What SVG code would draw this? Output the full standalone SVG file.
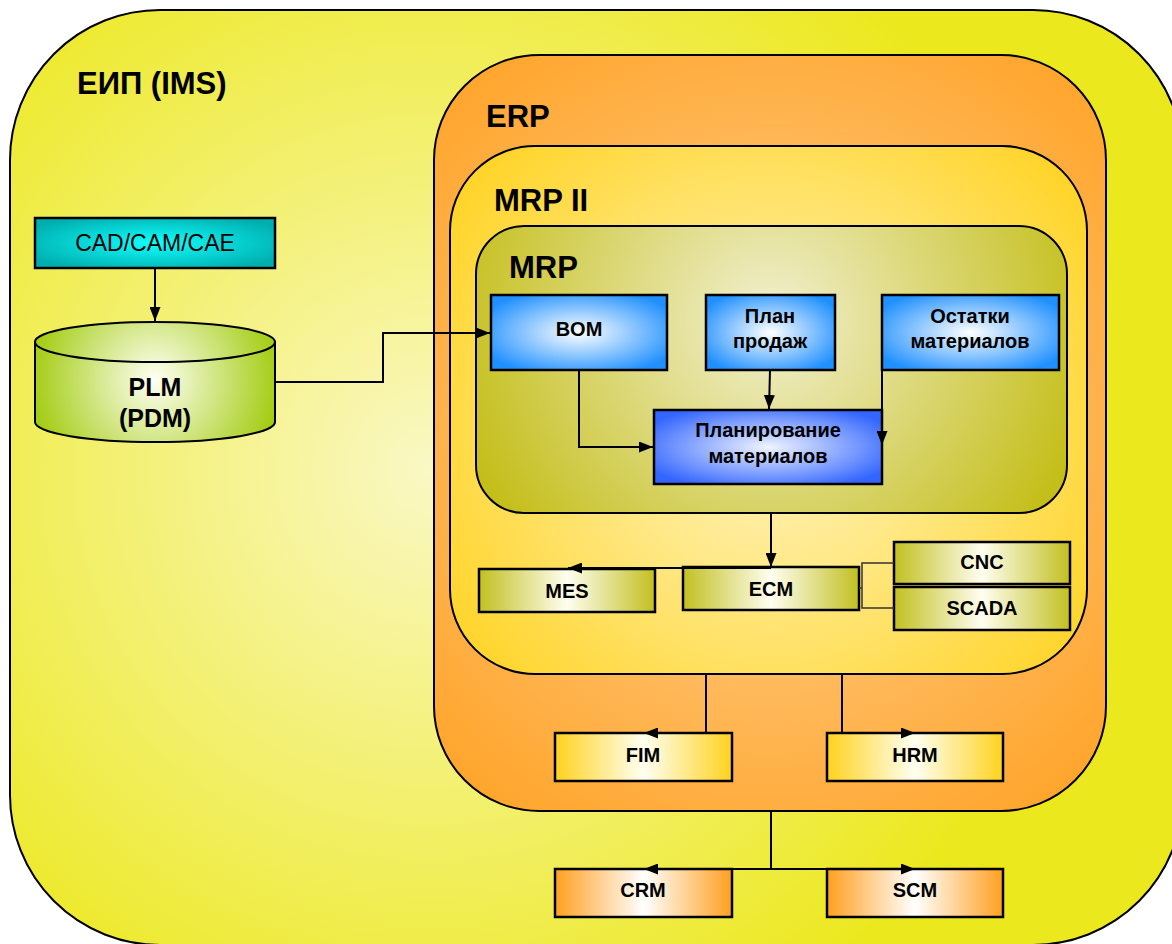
<svg xmlns="http://www.w3.org/2000/svg" width="1172" height="944" viewBox="0 0 1172 944">
<style>
.c{stroke:#000;stroke-width:2}
.b{stroke:#000;stroke-width:2.5}
.h{font-family:"Liberation Sans",Arial,sans-serif;font-weight:bold;font-size:31px;fill:#000}
.t{font-family:"Liberation Sans",Arial,sans-serif;font-weight:bold;font-size:20px;fill:#000;text-anchor:middle}
.l{fill:none;stroke:#000;stroke-width:2}
.a{marker-end:url(#arr)}
</style>
<defs>
<marker id="arr" markerUnits="userSpaceOnUse" markerWidth="14" markerHeight="11" refX="14" refY="5.5" orient="auto"><path d="M0,0 L14,5.5 L0,11 Z" fill="#000"/></marker>
<radialGradient id="gIms" gradientUnits="userSpaceOnUse" cx="430" cy="470" r="640"><stop offset="0" stop-color="#FAF8C4"/><stop offset="1" stop-color="#ECE81E"/></radialGradient>
<radialGradient id="gErp" gradientUnits="userSpaceOnUse" cx="770" cy="430" r="520"><stop offset="0" stop-color="#FFD296"/><stop offset="1" stop-color="#FFA020"/></radialGradient>
<radialGradient id="gMrp2" gradientUnits="userSpaceOnUse" cx="770" cy="420" r="410"><stop offset="0" stop-color="#FFF6C8"/><stop offset="1" stop-color="#FFD21E"/></radialGradient>
<radialGradient id="gMrp" gradientUnits="userSpaceOnUse" cx="770" cy="320" r="330"><stop offset="0" stop-color="#F2F0D2"/><stop offset="1" stop-color="#C4BE18"/></radialGradient>
<radialGradient id="gBlue" cx="0.5" cy="0.5" r="0.6"><stop offset="0" stop-color="#FFFFFF"/><stop offset="1" stop-color="#2090FF"/></radialGradient>
<radialGradient id="gBlue2" cx="0.5" cy="0.5" r="0.6"><stop offset="0" stop-color="#F0F4FF"/><stop offset="1" stop-color="#3466FF"/></radialGradient>
<radialGradient id="gCyan" cx="0.5" cy="0.5" r="0.6"><stop offset="0" stop-color="#10FFFF"/><stop offset="1" stop-color="#00AEAE"/></radialGradient>
<radialGradient id="gCyl" gradientUnits="userSpaceOnUse" cx="155" cy="380" r="125"><stop offset="0" stop-color="#FFFFF4"/><stop offset="1" stop-color="#A2CC10"/></radialGradient>
<linearGradient id="gOl"><stop offset="0" stop-color="#C2C020"/><stop offset="0.5" stop-color="#FFFEF0"/><stop offset="1" stop-color="#C2C020"/></linearGradient>
<linearGradient id="gGold"><stop offset="0" stop-color="#FFD21E"/><stop offset="0.5" stop-color="#FFFFF2"/><stop offset="1" stop-color="#FFD21E"/></linearGradient>
<linearGradient id="gOr"><stop offset="0" stop-color="#FFA020"/><stop offset="0.5" stop-color="#FFFFFF"/><stop offset="1" stop-color="#FFA020"/></linearGradient>
</defs>

<g id="ims"><rect x="10" y="10" width="1173" height="935" rx="150" fill="url(#gIms)" class="c"/><text class="h" x="77" y="94">ЕИП (IMS)</text></g>
<g id="erp"><rect x="434" y="55" width="672" height="756" rx="105" fill="url(#gErp)" class="c"/><text class="h" x="486" y="127">ERP</text></g>
<g id="mrp2"><rect x="450" y="146" width="637" height="528" rx="85" fill="url(#gMrp2)" class="c"/><text class="h" x="494" y="211">MRP II</text></g>
<g id="mrp"><rect x="476" y="226" width="591" height="287" rx="48" fill="url(#gMrp)" class="c"/><text class="h" x="509" y="278">MRP</text></g>

<g id="cad"><rect x="35" y="218" width="240" height="50" fill="url(#gCyan)" class="b"/><text x="155" y="251" text-anchor="middle" font-family="Liberation Sans,Arial,sans-serif" font-size="23">CAD/CAM/CAE</text></g>
<g id="plm">
<path d="M35,342 V422 A120,20 0 0 0 275,422 V342 Z" fill="url(#gCyl)" class="c"/>
<ellipse cx="155" cy="342" rx="120" ry="20" fill="url(#gCyl)" class="c"/>
<text class="t" x="155" y="396" style="font-size:25px">PLM</text>
<text class="t" x="155" y="427" style="font-size:25px">(PDM)</text>
</g>
<g id="bom"><rect x="491" y="295" width="176" height="75" fill="url(#gBlue)" class="b"/><text class="t" x="579" y="336">BOM</text></g>
<g id="sales"><rect x="706" y="295" width="129" height="75" fill="url(#gBlue)" class="b"/><text class="t" x="770" y="323">План</text><text class="t" x="770" y="348">продаж</text></g>
<g id="stock"><rect x="882" y="295" width="177" height="75" fill="url(#gBlue)" class="b"/><text class="t" x="970" y="323">Остатки</text><text class="t" x="970" y="348">материалов</text></g>
<g id="plan"><rect x="654" y="410" width="228" height="74" fill="url(#gBlue2)" class="b"/><text class="t" x="768" y="437">Планирование</text><text class="t" x="768" y="463">материалов</text></g>
<g id="mes"><rect x="479" y="569" width="176" height="43" fill="url(#gOl)" class="b"/><text class="t" x="567" y="598">MES</text></g>
<g id="ecm"><rect x="683" y="567" width="176" height="43" fill="url(#gOl)" class="b"/><text class="t" x="771" y="596">ECM</text></g>
<g id="cnc"><rect x="894" y="542" width="176" height="42" fill="url(#gOl)" class="b"/><text class="t" x="982" y="569">CNC</text></g>
<g id="scada"><rect x="894" y="587" width="176" height="43" fill="url(#gOl)" class="b"/><text class="t" x="982" y="615">SCADA</text></g>
<g id="fim"><rect x="555" y="733" width="177" height="48" fill="url(#gGold)" class="b"/><text class="t" x="643" y="762">FIM</text></g>
<g id="hrm"><rect x="827" y="733" width="176" height="48" fill="url(#gGold)" class="b"/><text class="t" x="915" y="762">HRM</text></g>
<g id="crm"><rect x="555" y="869" width="177" height="48" fill="url(#gOr)" class="b"/><text class="t" x="643" y="897">CRM</text></g>
<g id="scm"><rect x="827" y="869" width="176" height="48" fill="url(#gOr)" class="b"/><text class="t" x="915" y="897">SCM</text></g>

<g id="connectors">
<path class="l a" d="M155,269 V321"/>
<path class="l a" d="M275,382 H383 V333 H490"/>
<path class="l a" d="M579,370 V447 H653"/>
<path class="l a" d="M770,370 L769,409"/>
<path class="l a" d="M882,370 V445"/>
<path class="l a" d="M771,513 V567"/>
<path class="l a" d="M771,568 H568"/>
<path fill="none" stroke="#333" stroke-width="1.5" d="M859,588 H862 M894,563 H862 V608 H894"/>
<path class="l a" d="M706,674 V733 H644"/>
<path class="l a" d="M842,674 V733 H915"/>
<path class="l a" d="M771,811 V869 H644"/>
<path class="l a" d="M771,869 H915"/>
</g>
</svg>
